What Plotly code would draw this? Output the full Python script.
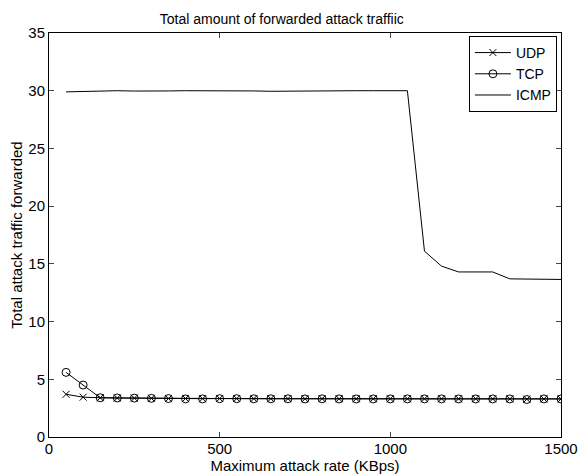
import plotly.graph_objects as go

rate = [50, 100, 150, 200, 250, 300, 350, 400, 450, 500, 550, 600, 650, 700, 750,
        800, 850, 900, 950, 1000, 1050, 1100, 1150, 1200, 1250, 1300, 1350, 1400, 1450, 1500]
udp = [3.7, 3.45, 3.4, 3.38, 3.37, 3.35, 3.33, 3.33, 3.32, 3.33, 3.33, 3.32, 3.32, 3.32, 3.31,
       3.32, 3.31, 3.31, 3.31, 3.31, 3.31, 3.31, 3.31, 3.31, 3.31, 3.3, 3.3, 3.28, 3.3, 3.3]
tcp = [5.6, 4.5, 3.4, 3.38, 3.37, 3.35, 3.33, 3.3, 3.3, 3.32, 3.32, 3.31, 3.31, 3.31, 3.3,
       3.31, 3.3, 3.3, 3.3, 3.3, 3.3, 3.3, 3.3, 3.3, 3.3, 3.3, 3.3, 3.25, 3.3, 3.3]
icmp = [29.9, 29.95, 29.97, 30.0, 29.97, 29.95, 29.98, 30.0, 30.0, 30.02, 30.0, 29.98, 29.95, 29.97, 29.98,
        29.95, 29.98, 30.0, 30.0, 29.97, 30.0, 16.1, 14.8, 14.3, 14.3, 14.3, 13.7, 13.7, 13.7, 13.65]

font = "Liberation Sans, Arial, sans-serif"
fig = go.Figure()
fig.add_trace(go.Scatter(x=rate, y=udp, name="UDP", mode="lines+markers",
                         line=dict(color="black", width=1),
                         marker=dict(symbol="x-thin-open", size=7, color="black",
                                     line=dict(color="black", width=1))))
fig.add_trace(go.Scatter(x=rate, y=tcp, name="TCP", mode="lines+markers",
                         line=dict(color="black", width=1),
                         marker=dict(symbol="circle-open", size=8, color="black",
                                     line=dict(color="black", width=1))))
fig.add_trace(go.Scatter(x=rate, y=icmp, name="ICMP", mode="lines",
                         line=dict(color="black", width=1)))

fig.update_layout(
    width=581, height=474,
    margin=dict(l=49, r=20, t=33, b=37),
    paper_bgcolor="white", plot_bgcolor="white",
    font=dict(family=font, size=15, color="black"),
    title=dict(text="Total amount of forwarded attack traffiic", x=0.485, xanchor="center",
               y=1 - 19 / 474, yanchor="middle", font=dict(size=14)),
    showlegend=True,
    legend=dict(x=0.992, xanchor="right", y=0.9926, yanchor="top", bordercolor="black", borderwidth=1,
                bgcolor="white", font=dict(size=14), tracegroupgap=0, itemwidth=36),
    xaxis=dict(range=[0, 1500], tickvals=[0, 500, 1000, 1500], ticks="inside", ticklen=5,
               ticklabelstandoff=-2,
               showline=True, linecolor="black", linewidth=1, mirror="ticks", showgrid=False,
               zeroline=False, automargin=False,
               title=dict(text="Maximum attack rate (KBps)", standoff=3, font=dict(size=15))),
    yaxis=dict(range=[0, 35], tickvals=[0, 5, 10, 15, 20, 25, 30, 35], ticks="inside", ticklen=5,
               showline=True, linecolor="black", linewidth=1, mirror="ticks", showgrid=False,
               zeroline=False, automargin=False,
               title=dict(text="Total attack traffic forwarded", standoff=2, font=dict(size=15))),
)
fig.write_html("out.html", config={"displayModeBar": False},
               post_script="document.body.style.margin='0';")
